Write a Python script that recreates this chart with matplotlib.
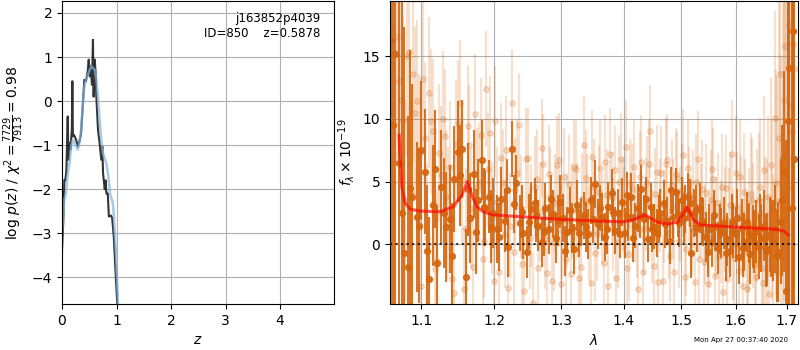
import numpy as np
import matplotlib
matplotlib.use('Agg')
import matplotlib.pyplot as plt
from matplotlib.ticker import NullLocator

# --- p(z) panel ---
z_fine = [0.0, 0.025, 0.043, 0.06, 0.08, 0.105, 0.117, 0.136, 0.155, 0.18, 0.19, 0.20,
          0.22, 0.26, 0.29, 0.32, 0.35, 0.38, 0.41, 0.44, 0.475, 0.49, 0.51, 0.525, 0.55,
          0.568, 0.58, 0.60, 0.617, 0.63, 0.66, 0.69, 0.72, 0.74, 0.753, 0.784, 0.80,
          0.815, 0.84, 0.86, 0.90, 0.92, 0.95, 0.99, 1.03, 1.10]
logp_fine = [-3.39, -2.7, -1.79, -1.8, -1.6, -0.35, -1.33, -0.95, -1.1, -0.65, 0.45, -0.8,
             -0.77, -0.88, -1.03, -0.92, -0.73, -0.12, 0.48, 0.45, 0.71, 0.94, 0.56, 0.79, 0.37,
             1.39, 0.1, 0.94, 0.64, 0.1, -0.65, -0.95, -1.33, -1.03, -1.64, -2.0, -1.8,
             -2.1, -2.1, -2.62, -2.6, -2.65, -3.08, -4.06, -4.97, -6.0]

z_coarse = [0.0, 0.04, 0.07, 0.10, 0.14, 0.17, 0.20, 0.23, 0.26, 0.29, 0.32, 0.35, 0.38,
            0.41, 0.44, 0.475, 0.51, 0.54, 0.57, 0.60, 0.63, 0.66, 0.69, 0.72, 0.75, 0.81,
            0.85, 0.88, 0.93, 0.95, 0.99, 1.03, 1.10]
logp_coarse = [-3.0, -2.24, -2.1, -1.7, -1.4, -1.0, -0.88, -0.95, -1.03, -1.1, -0.95, -0.65,
               -0.12, 0.33, 0.48, 0.6, 0.71, 0.79, 0.75, 0.71, 0.48, 0.1, -0.42, -0.88, -1.18,
               -1.4, -1.7, -2.1, -2.3, -2.55, -3.45, -4.67, -6.0]

# --- spectrum panel: two beams, binned (dark) and unbinned (light) ---
wave_bin_a = np.linspace(1.061, 1.716, 120)
flux_bin_a = [16.3, 15.2, 6.5, -0.7, -1.8, 3.8,
              2.2, 7.5, 5.8, -2.8,
              3.1, -1.5, 4.6, 1.4, 2.0, 5.2, 7.4, 7.6, -2.6, 2.1,
              5.6, 3.5, 6.7, 2.9, 3.8, 2.5, 1.2, 3.6, 1.9, -0.2,
              7.6, 4.9, 1.7, 0.9, -0.6, 2.8, 3.3, 1.5, 0.2, 2.9,
              1.2, 2.4, 0.5, 3.4, 2.1, 1.0, 2.7, -0.4, 3.1, 1.8,
              2.3, 0.8, 3.5, 4.8, 1.6, 2.2, 0.6, 3.0, 4.1, 1.1,
              2.5, 3.4, 0.9, 2.2, 3.8, 1.5, 2.9, 4.4, 2.0, 0.4,
              3.0, 1.4, 0.9, 2.5, 3.3, 1.9, 0.3, 2.2, 4.2, 1.7,
              3.5, 2.8, 3.8, -0.7, 2.5, 1.3, 2.9, 1.8, 0.6, 1.2,
              0.2, 1.5, -0.3, 0.9, 1.7, 0.4, -0.5, 1.1, 0.8, -1.0,
              1.3, 0.2, 1.8, -0.8, 0.6, 1.0, -0.2, 0.5, 1.5, -0.4,
              0.8, 0.3, 1.2, -0.6, 1.8, 5.8, -3.7, 14.1, 2.9, 6.8]
err_bin_a = [30, 30, 22, 18, 12, 9,
             6.0, 5.5, 5.0, 5.0,
             4.8, 4.6, 4.5, 4.4, 4.3, 4.2, 4.0, 3.9, 3.8, 3.6,
             3.5, 3.3, 3.2, 3.0, 2.9, 2.8, 2.7, 2.6, 2.5, 2.4,
             2.2, 2.2, 2.2, 2.1, 2.1, 2.1, 2.0, 2.0, 2.0, 2.0,
             2.0, 1.9, 2.0, 2.1, 1.9, 2.0, 1.9, 2.0, 2.0, 1.9,
             1.9, 2.0, 1.9, 1.9, 2.0, 1.9, 1.9, 2.0, 1.9, 1.9,
             1.9, 1.9, 2.0, 1.9, 1.9, 1.8, 1.9, 1.9, 1.9, 1.8,
             1.9, 1.8, 1.9, 1.9, 1.8, 1.9, 1.9, 1.8, 1.9, 1.9,
             1.9, 1.9, 1.9, 2.0, 1.9, 1.9, 2.0, 1.9, 2.0, 2.0,
             2.0, 2.0, 2.1, 2.0, 2.1, 2.1, 2.1, 2.2, 2.2, 2.2,
             2.3, 2.3, 2.4, 2.4, 2.5, 2.5, 2.6, 2.7, 2.8, 2.9,
             3.0, 3.2, 3.5, 4.0, 5.0, 8.0, 12.0, 25.0, 30.0, 30.0]

wave_bin_b = np.linspace(1.0638, 1.7188, 120)
flux_bin_b = [9.5, 12.0, 2.5, 8.0, 4.5, 6.2,
              1.5, 4.2, -0.5, 3.6,
              6.0, 0.8, 2.5, 5.0, -0.9, 3.8, 5.5, 2.0, 4.4, 6.3,
              1.0, 4.5, 3.0, 5.2, 1.4, 3.3, 0.6, 2.7, 4.3, 1.5,
              3.2, 0.4, 2.6, 4.0, 1.8, -0.8, 2.3, 3.7, 1.0, 2.0,
              3.6, 0.7, 1.9, 2.8, -0.5, 3.9, 1.3, 2.4, 0.9, 3.0,
              1.4, 3.7, 2.0, 0.3, 2.9, 3.5, 1.2, -0.2, 2.6, 3.3,
              0.8, 2.0, 3.9, 1.7, 0.5, 3.1, 2.3, 1.0, 3.6, 2.6,
              1.2, 3.9, 2.0, -0.3, 1.6, 2.8, 4.3, 0.7, 2.4, 3.1,
              2.1, 0.9, 3.3, 1.5, 2.7, 0.4, 1.9, 3.0, -0.6, 1.4,
              2.3, 0.1, 1.2, 2.6, -0.7, 0.9, 1.8, 0.3, 2.1, 0.6,
              -0.3, 1.6, 0.9, 2.4, 0.2, -1.2, 1.3, 0.7, -0.5, 1.9,
              0.5, 1.4, -0.9, 2.2, 3.5, -1.5, 9.8, 4.0, 17.0, 7.5]
err_bin_b = [30, 25, 20, 15, 11, 8,
             6.2, 5.6, 5.2, 4.9,
             4.7, 4.6, 4.4, 4.3, 4.2, 4.1, 4.0, 3.8, 3.7, 3.5,
             3.4, 3.3, 3.1, 3.0, 2.9, 2.7, 2.7, 2.5, 2.5, 2.3,
             2.3, 2.2, 2.1, 2.1, 2.2, 2.0, 2.1, 2.0, 1.9, 2.0,
             1.9, 2.0, 2.0, 1.9, 2.0, 1.9, 2.0, 1.9, 1.9, 2.0,
             2.0, 1.9, 1.9, 2.0, 1.8, 1.9, 2.0, 1.9, 1.9, 1.8,
             1.9, 2.0, 1.9, 1.8, 1.9, 1.9, 1.8, 1.9, 1.8, 1.9,
             1.8, 1.9, 1.9, 1.8, 1.9, 1.8, 1.9, 1.9, 1.8, 1.9,
             2.0, 1.9, 1.9, 1.9, 2.0, 2.0, 1.9, 2.0, 2.0, 2.1,
             2.0, 2.1, 2.0, 2.1, 2.2, 2.1, 2.2, 2.2, 2.3, 2.3,
             2.3, 2.4, 2.4, 2.5, 2.5, 2.6, 2.7, 2.7, 2.9, 3.0,
             3.1, 3.3, 3.7, 4.5, 6.0, 10.0, 18.0, 28.0, 30.0, 30.0]

wave_raw_a = np.linspace(1.063, 1.713, 125)
flux_raw_a = [14.4, 16.5, 11.5, 3.5, 15.3, 13.6, 11.4, -3.3, 8.5, 12.1,
              9.0, -1.3, 5.5, 8.6, 2.5, -2.8, 8.0, 11.3, -3.6, 9.4,
              2.9, 10.4, 5.0, -1.2, 12.4, 8.9, -2.9, 3.4, 6.9, 0.8,
              -3.5, 11.3, 4.3, 9.5, -1.6, 6.8, 0.5, -4.7, 5.2, 2.6,
              6.4, -2.3, 3.8, 0.2, 6.3, -3.2, 5.4, 1.9, -2.4, 6.2,
              2.7, -1.8, 7.9, 3.4, -3.1, 4.6, 0.8, 6.1, -1.5, 3.9,
              7.2, 1.6, -2.7, 5.0, 3.2, 7.8, -0.8, 4.4, 2.2, -3.6,
              6.6, 1.2, 4.9, 9.0, -1.7, 5.8, 3.1, -2.9, 6.4, 0.9,
              4.7, -2.2, 5.3, 2.4, 7.1, -0.4, 4.0, 1.3, -3.0, 6.8,
              2.6, -1.4, 4.1, 0.5, 6.0, -2.5, 3.3, 1.0, -3.8, 4.5,
              1.9, 7.2, -1.1, 3.0, 5.4, -3.3, 2.1, -0.7, 4.0, 1.5,
              -2.6, 3.5, -1.9, 5.9, 0.6, -4.0, 2.8, 10.1, 3.4, 13.6,
              7.0, 15.8, 4.5, 11.0, 16.0]
err_raw_a = [12, 10, 9, 8, 7.5, 7, 6.5, 6.3, 6, 6,
             5.8, 5.6, 5.5, 5.4, 5.3, 5.2, 5.1, 5.0, 5.0, 4.9,
             4.8, 4.8, 4.7, 4.6, 4.6, 4.5, 4.5, 4.4, 4.4, 4.3,
             4.3, 4.2, 4.2, 4.2, 4.1, 4.1, 4.1, 4.0, 4.0, 4.0,
             4.0, 3.9, 4.0, 3.9, 3.9, 3.9, 3.9, 3.8, 3.9, 3.8,
             3.8, 3.8, 3.9, 3.8, 3.8, 3.8, 3.7, 3.8, 3.8, 3.7,
             3.7, 3.7, 3.8, 3.7, 3.7, 3.7, 3.7, 3.7, 3.6, 3.7,
             3.7, 3.6, 3.7, 3.7, 3.6, 3.7, 3.7, 3.6, 3.7, 3.7,
             3.7, 3.7, 3.7, 3.8, 3.7, 3.7, 3.8, 3.8, 3.8, 3.8,
             3.8, 3.9, 3.9, 3.9, 4.0, 4.0, 4.0, 4.1, 4.1, 4.2,
             4.2, 4.3, 4.3, 4.4, 4.5, 4.6, 4.7, 4.8, 4.9, 5.0,
             5.2, 5.4, 5.6, 5.9, 6.2, 6.6, 7.2, 8.5, 10, 12,
             15, 18, 20, 25, 30]

wave_raw_b = np.linspace(1.0656, 1.7156, 125)
flux_raw_b = [6.5, 13.0, 9.8, 15.0, 4.2, 10.5, 7.2, 13.2, 0.5, 9.8,
              -2.0, 7.3, 10.0, 3.8, 6.2, -3.9, 9.7, 5.1, 1.2, 7.9,
              -1.8, 4.6, 8.7, 0.3, 6.0, 2.1, 9.8, -2.2, 4.9, 7.5,
              1.5, -0.6, 5.7, 3.0, -3.7, 6.9, 2.3, 4.6, -1.9, 7.7,
              0.4, 5.6, -2.9, 3.3, 6.7, 1.1, -1.2, 4.8, 2.7, 6.0,
              -2.7, 3.6, 5.3, 0.9, 7.0, -0.7, 4.2, 2.1, 6.6, -3.3,
              3.7, 5.9, 0.2, 6.8, 2.6, -1.9, 4.8, 6.2, 1.0, 5.4,
              -2.2, 3.2, 6.4, 0.6, 4.0, -3.0, 5.7, 2.2, 6.7, -0.9,
              3.0, 5.6, 0.3, 4.3, -2.6, 6.1, 1.7, 3.6, 5.0, -1.2,
              4.4, 0.8, -3.2, 3.5, 5.2, 1.4, -0.9, 4.6, 2.0, -2.8,
              3.1, 0.0, 5.7, -2.1, 2.5, 4.2, -3.6, 1.2, 3.5, -1.6,
              2.3, 4.6, -3.1, 1.0, 3.8, 6.3, -2.2, 4.9, 8.5, 2.0,
              11.5, 5.5, 17.5, 9.0, 14.0]
err_raw_b = [11, 10, 8.5, 8, 7.2, 6.8, 6.4, 6.1, 5.9, 5.8,
             5.6, 5.5, 5.4, 5.3, 5.2, 5.1, 5.0, 5.0, 4.9, 4.8,
             4.8, 4.7, 4.6, 4.6, 4.5, 4.5, 4.4, 4.4, 4.3, 4.3,
             4.2, 4.2, 4.2, 4.1, 4.1, 4.0, 4.1, 4.0, 4.0, 3.9,
             4.0, 3.9, 3.9, 3.9, 3.8, 3.9, 3.8, 3.9, 3.8, 3.8,
             3.8, 3.7, 3.8, 3.8, 3.7, 3.8, 3.7, 3.7, 3.7, 3.8,
             3.7, 3.6, 3.7, 3.7, 3.6, 3.7, 3.6, 3.7, 3.7, 3.6,
             3.7, 3.7, 3.6, 3.7, 3.7, 3.6, 3.7, 3.7, 3.7, 3.7,
             3.8, 3.7, 3.8, 3.7, 3.8, 3.8, 3.8, 3.9, 3.8, 3.9,
             3.9, 4.0, 3.9, 4.0, 4.1, 4.0, 4.1, 4.2, 4.2, 4.3,
             4.3, 4.4, 4.5, 4.5, 4.6, 4.7, 4.8, 4.9, 5.0, 5.1,
             5.3, 5.5, 5.8, 6.0, 6.4, 7.0, 7.8, 9.0, 11, 13,
             16, 19, 22, 26, 30]

wave_model = [1.0716, 1.0750, 1.0792, 1.0857, 1.0994, 1.1252, 1.1427, 1.1546, 1.1623,
              1.1689, 1.1758, 1.1843, 1.1985, 1.2525, 1.2980, 1.3613, 1.3999, 1.4135,
              1.4360, 1.4590, 1.4765, 1.4941, 1.5102, 1.5211, 1.5333, 1.5891, 1.6800,
              1.6950, 1.7034]
flux_model = [8.7, 4.6, 3.3, 2.8, 2.65, 2.6, 3.0, 3.9, 5.0,
              3.85, 3.0, 2.6, 2.35, 2.15, 2.0, 1.85, 1.8, 1.9,
              2.35, 1.75, 1.62, 1.8, 2.95, 2.0, 1.55, 1.4, 1.2,
              1.05, 0.75]

wave_ticks = [1.1, 1.2, 1.3, 1.4, 1.5, 1.6, 1.7]

dark = '#d5660f'

fig = plt.figure(figsize=(8, 3.5), dpi=100)

ax = fig.add_axes([0.0775, 0.131, 0.34, 0.866])
ax.plot(z_fine, logp_fine, color='k', alpha=0.8, lw=1.5)
ax.plot(z_coarse, logp_coarse, color=(0.5, 0.7, 0.87), alpha=0.7, lw=1.8)
ax.set_xlim(0, 4.99)
ax.set_ylim(-4.61, 2.27)
ax.set_xlabel('$z$')
ax.set_ylabel(r'$\log\,p(z)$ / $\chi^2=\frac{7729}{7913}=0.98$')
ax.grid()
ax.text(0.95, 0.965, 'j163852p4039\nID=850    z=0.5878', transform=ax.transAxes,
        ha='right', va='top', fontsize=8.5)

ax = fig.add_axes([0.4875, 0.131, 0.51, 0.866])
for w, f, e in [(wave_raw_a, flux_raw_a, err_raw_a), (wave_raw_b, flux_raw_b, err_raw_b)]:
    ax.errorbar(w, f, yerr=e, marker='o', ms=4, linestyle='none',
                color=dark, alpha=0.2, elinewidth=1.6)
# second beam: every other binned point only
for w, f, e in [(wave_bin_a, flux_bin_a, err_bin_a),
                (wave_bin_b[::2], flux_bin_b[::2], err_bin_b[::2])]:
    ax.errorbar(w, f, yerr=e, marker='o', ms=4.2, linestyle='none',
                color=dark, alpha=0.9, elinewidth=1.5)
ax.axhline(0, color='k', linestyle=':', lw=1.5, alpha=0.8, zorder=5)
ax.plot(wave_model, flux_model, color='r', alpha=0.65, lw=2.2, zorder=10)
ax.set_xscale('log')
ax.set_xlim(1.06, 1.7234)
ax.set_ylim(-4.77, 19.4)
ax.set_xticks(wave_ticks)
ax.set_xticklabels(['{0:.1f}'.format(w) for w in wave_ticks])
ax.xaxis.set_minor_locator(NullLocator())
ax.set_yticks([0, 5, 10, 15])
ax.set_xlabel(r'$\lambda$')
ax.set_ylabel(r'$f_\lambda\times10^{-19}$')
ax.grid()

fig.text(0.985, 0.029, 'Mon Apr 27 00:37:40 2020', ha='right', va='center', fontsize=5)

fig.savefig('out.png', dpi=100)
